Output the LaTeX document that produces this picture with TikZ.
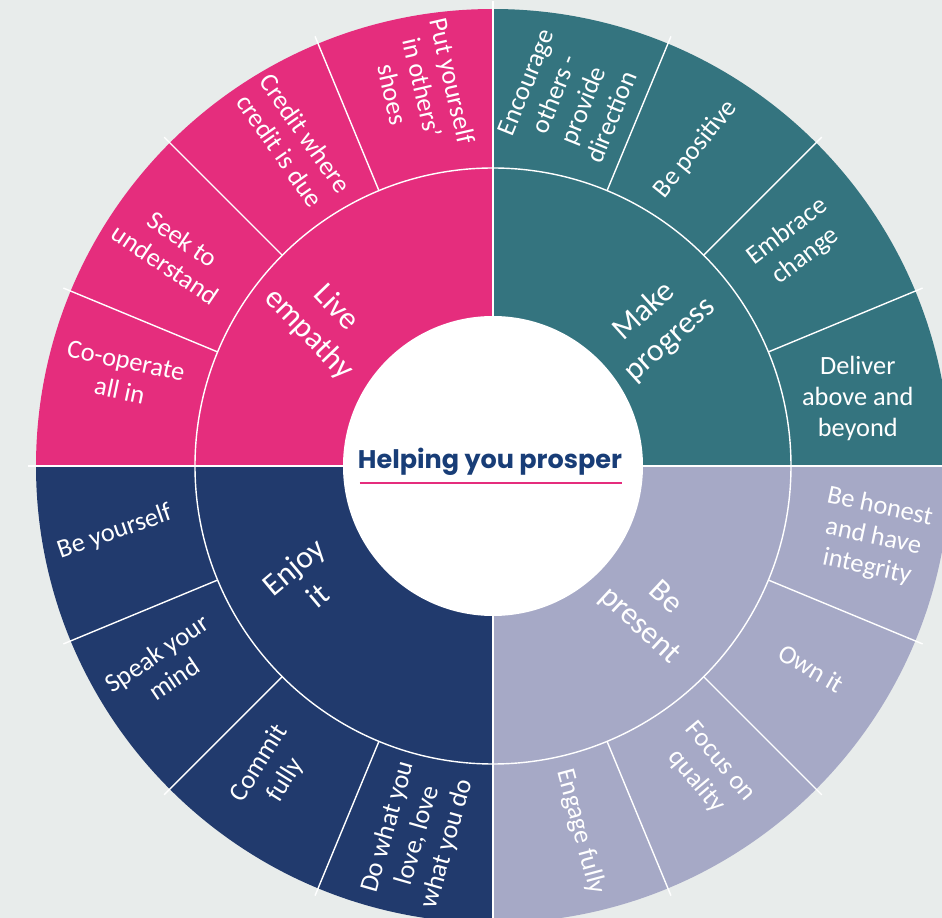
\documentclass[tikz,border=0pt]{standalone}
\usepackage{fontspec}
\setmainfont{Carlito}
\newfontfamily\titlefont{Poppins}

\definecolor{empathy}{HTML}{E52D7D}
\definecolor{progress}{HTML}{34747F}
\definecolor{enjoy}{HTML}{213A6D}
\definecolor{present}{HTML}{A6A9C6}
\definecolor{backdrop}{HTML}{E8ECEB}
\definecolor{titleblue}{HTML}{183D77}

\tikzset{
  pics/quadrant/.style args={#1,#2}{
     code={
        \fill[#2] (0,0) -- (#1:9.14) arc (#1:#1+90:9.14) -- cycle;
     }
  },
  divider/.style={draw=white, line width=0.8pt},
  leaf/.style={text=white, align=center, inner sep=1pt, font=\fontsize{15}{17.5}\selectfont},
  value/.style={text=white, align=center, inner sep=1pt, font=\fontsize{18}{21.5}\selectfont}
}

\begin{document}
\begin{tikzpicture}
            \fill[backdrop] (-9.86,-9.04) rectangle (8.98,9.32);
            \useasboundingbox (-9.86,-9.04) rectangle (8.98,9.32);
            \clip (-9.86,-9.04) rectangle (8.98,9.32);
            % the four values
            \draw (0,0) pic{quadrant={90,empathy}};
            \draw (0,0) pic{quadrant={0,progress}};
            \draw (0,0) pic{quadrant={180,enjoy}};
            \draw (0,0) pic{quadrant={270,present}};
            \draw[divider] (0,0) circle (5.96);
            \foreach \a in {0,22.5,...,337.5}
                \draw[divider] (\a:5.96) -- (\a:9.3);
            \foreach \a in {0,90,180,270}
                \draw[divider] (\a:3) -- (\a:5.96);
            \fill[white] (0,0) circle (3);
            % inner ring
            \node[value, rotate=-46] (Empathy) at (139.7:4.48) {Live\\empathy};
            \node[value, rotate=42] (Progress) at (40.5:4.32) {Make\\progress};
            \node[value, rotate=40] (Enjoy) at (211.5:4.4) {Enjoy\\it};
            \node[value, rotate=-43] (Present) at (-42.6:4.32) {Be\\present};
            % outer ring
            \node[leaf, rotate=-77] (Shoes) at (100.5:7.7) {Put yourself\\in others’\\shoes};
            \node[leaf, rotate=-55] (Credit) at (121.7:7.62) {Credit where\\credit is due};
            \node[leaf, rotate=-34] (Seek) at (146.1:7.68) {Seek to\\understand};
            \node[leaf, rotate=-12] (Coop) at (166.3:7.62) {Co-operate\\all in};
            \node[leaf, rotate=68] (Encourage) at (78.3:7.48) {Encourage\\others -\\provide\\direction};
            \node[leaf, rotate=51] (Positive) at (57.4:7.52) {Be positive};
            \node[leaf, rotate=37] (Change) at (36.2:7.52) {Embrace\\change};
            \node[leaf] (Deliver) at (10.5:7.42) {Deliver\\above and\\beyond};
            \node[leaf, rotate=19] (Yourself) at (189.9:7.68) {Be yourself};
            \node[leaf, rotate=34] (Speak) at (211.4:7.68) {Speak your\\mind};
            \node[leaf, rotate=58] (Commit) at (234.2:7.54) {Commit\\fully};
            \node[leaf, rotate=74] (Love) at (258.5:7.54) {Do what you\\love, love\\what you do};
            \node[leaf, rotate=-12] (Honest) at (-10.6:7.74) {Be honest\\and have\\integrity};
            \node[leaf, rotate=-30] (Own) at (-32.4:7.54) {Own it};
            \node[leaf, rotate=-50] (Quality) at (-54.9:7.48) {Focus on\\quality};
            \node[leaf, rotate=-75] (Engage) at (-76.5:7.52) {Engage fully};
            % centre
            \node[text=titleblue, font=\titlefont\bfseries\fontsize{14.5}{17}\selectfont] (Title) at (-0.06,0.08) {Helping you prosper};
            \draw[empathy, line width=1.2pt] (-2.66,-0.34) -- (2.58,-0.34);
        \end{tikzpicture}
\end{document}
